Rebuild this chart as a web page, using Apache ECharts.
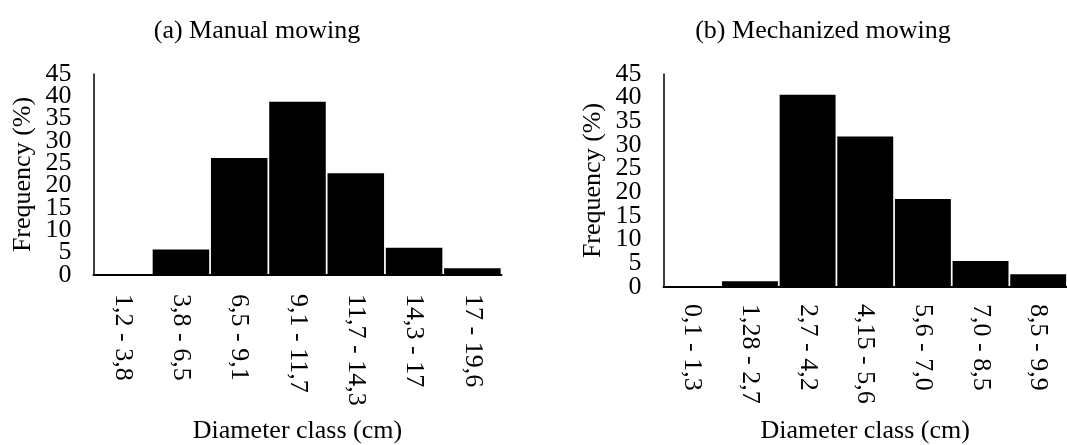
<!DOCTYPE html>
<html>
<head>
<meta charset="utf-8">
<script src="https://cdn.jsdelivr.net/npm/echarts@6/dist/echarts.min.js"></script>
<style>
html,body{margin:0;padding:0;background:#fff;}
#main{width:1067px;height:445px;}
</style>
</head>
<body>
<div id="main"></div>
<script>
var manualCategories = ['1,2 - 3,8', '3,8 - 6,5', '6,5 - 9,1', '9,1 - 11,7', '11,7 - 14,3', '14,3 - 17', '17 - 19,6'];
var manualValues = [0.2, 5.7, 26.2, 38.8, 22.8, 6.1, 1.5];
var mechCategories = ['0,1 - 1,3', '1,28 - 2,7', '2,7 - 4,2', '4,15 - 5,6', '5,6 - 7,0', '7,0 - 8,5', '8,5 - 9,9'];
var mechValues = [0.1, 1.2, 40.6, 31.8, 18.6, 5.5, 2.7];
var yTicks = [0, 5, 10, 15, 20, 25, 30, 35, 40, 45];
var titleA = '(a) Manual mowing';
var titleB = '(b) Mechanized mowing';
var yName = 'Frequency (%)';
var xName = 'Diameter class (cm)';

var FONT = 'Liberation Serif';
var FS = 26;
var YMIN = yTicks[0], YMAX = yTicks[yTicks.length - 1], YINT = yTicks[1] - yTicks[0];

function xAxis(idx, cats, gap, margin) {
  return {
    type: 'category', gridIndex: idx, data: cats,
    axisLine: {show: true, lineStyle: {color: '#000', width: 2}},
    axisTick: {show: false},
    axisLabel: {rotate: -90, margin: margin, color: '#000', fontFamily: FONT, fontSize: FS, interval: 0},
    name: xName, nameLocation: 'middle', nameGap: gap,
    nameTextStyle: {color: '#000', fontFamily: FONT, fontSize: FS}
  };
}
// main axis: inner tick labels (5..40), axis line and name
function yAxisMain(idx) {
  return {
    type: 'value', gridIndex: idx, min: YMIN, max: YMAX, interval: YINT,
    splitLine: {show: false},
    axisLine: {show: true, lineStyle: {color: '#000', width: 1.5}},
    axisTick: {show: false},
    axisLabel: {margin: 22, color: '#000', fontFamily: FONT, fontSize: FS, showMinLabel: false, showMaxLabel: false},
    name: yName, nameLocation: 'middle', nameRotate: 90, nameGap: 57,
    nameTextStyle: {color: '#000', fontFamily: FONT, fontSize: FS}
  };
}
// companion axis on the same scale: only the end labels (0 and 45)
function yAxisEnds(idx) {
  return {
    type: 'value', gridIndex: idx, min: YMIN, max: YMAX, interval: YINT, position: 'left',
    splitLine: {show: false},
    axisLine: {show: false},
    axisTick: {show: false},
    axisLabel: {
      margin: 22, color: '#000', fontFamily: FONT, fontSize: FS, showMinLabel: true, showMaxLabel: true,
      formatter: function (v) { return (v === YMIN || v === YMAX) ? String(v) : ''; }
    }
  };
}

var chart = echarts.init(document.getElementById('main'));
chart.setOption({
  animation: false,
  backgroundColor: '#fff',
  title: [
    {text: titleA, left: 252, top: 13, textAlign: 'center', textStyle: {color: '#000', fontFamily: FONT, fontSize: FS, fontWeight: 'normal'}},
    {text: titleB, left: 818, top: 13, textAlign: 'center', textStyle: {color: '#000', fontFamily: FONT, fontSize: FS, fontWeight: 'normal'}}
  ],
  grid: [
    {left: 93.5, top: 74, width: 408, height: 203.5},
    {left: 663.5, top: 74, width: 420, height: 217.5}
  ],
  xAxis: [xAxis(0, manualCategories, 143, 19), xAxis(1, mechCategories, 131, 17)],
  yAxis: [yAxisMain(0), yAxisMain(1), yAxisEnds(0), yAxisEnds(1)],
  series: [
    {type: 'bar', xAxisIndex: 0, yAxisIndex: 0, data: manualValues, barCategoryGap: '3%', itemStyle: {color: '#000'}},
    {type: 'bar', xAxisIndex: 1, yAxisIndex: 1, data: mechValues, barCategoryGap: '3%', itemStyle: {color: '#000'}}
  ]
});
</script>
</body>
</html>
